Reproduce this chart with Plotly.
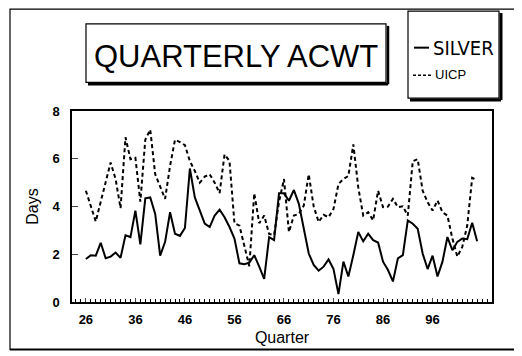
import plotly.graph_objects as go

quarters = list(range(26, 106))

silver = [1.80, 1.96, 1.94, 2.48, 1.83, 1.90, 2.07, 1.85, 2.79, 2.72,
          3.83, 2.41, 4.34, 4.38, 3.69, 1.94, 2.52, 3.76, 2.86, 2.77,
          3.10, 5.59, 4.38, 3.83, 3.28, 3.14, 3.62, 3.87, 3.55, 3.14,
          2.66, 1.62, 1.58, 1.65, 1.96, 1.48, 0.97, 2.72, 2.59, 4.55,
          4.55, 4.24, 4.69, 4.11, 3.07, 2.03, 1.55, 1.31, 1.48, 1.78,
          1.38, 0.33, 1.69, 1.07, 1.96, 2.93, 2.54, 2.86, 2.59, 2.49,
          1.69, 1.34, 0.86, 1.83, 1.96, 3.42, 3.28, 3.07, 2.03, 1.38,
          1.94, 1.07, 1.69, 2.72, 2.17, 2.52, 2.66, 2.63, 3.32, 2.54]

uicp = [4.66, 4.00, 3.37, 4.20, 5.00, 5.84, 5.15, 3.93, 6.90, 5.98,
        6.04, 4.20, 6.80, 7.22, 5.35, 4.80, 4.32, 5.70, 6.80, 6.70,
        6.57, 5.90, 5.49, 5.00, 5.25, 5.35, 5.00, 4.56, 6.18, 5.90,
        3.30, 3.20, 2.30, 1.50, 4.55, 3.30, 3.62, 2.85, 2.80, 4.20,
        5.15, 2.93, 3.62, 3.69, 4.04, 5.35, 4.00, 3.35, 3.65, 3.55,
        3.90, 4.94, 5.15, 5.28, 6.60, 4.80, 3.62, 3.76, 3.42, 4.66,
        3.97, 4.00, 4.32, 3.97, 4.01, 3.62, 5.90, 5.98, 4.66, 4.18,
        3.83, 4.25, 3.76, 3.62, 2.66, 1.90, 2.31, 3.20, 5.20, 5.10]

x_ticks = [26, 36, 46, 56, 66, 76, 86, 96]
y_ticks = [0, 2, 4, 6, 8]

# page has an 8px body margin, so the figure is 8px smaller each way
OFF = 8
W, H = 522 - OFF, 356 - OFF
L, R, T, B = 72, 492, 111, 304   # plot area in screenshot pixels


def px(x):
    return (x - L) / (R - L)


def py(y):
    return (B - y) / (B - T)


fig = go.Figure()
fig.add_trace(go.Scatter(x=quarters, y=silver, mode="lines", name="SILVER",
                         line=dict(color="black", width=2)))
fig.add_trace(go.Scatter(x=quarters, y=uicp, mode="lines", name="UICP",
                         line=dict(color="black", width=2, dash="4px,3px")))

shapes = []


def box(x0, y0, x1, y1, w=1.2):
    shapes.append(dict(type="rect", xref="paper", yref="paper",
                       x0=px(x0), x1=px(x1), y0=py(y0), y1=py(y1),
                       line=dict(color="black", width=w), layer="above"))


def seg(x0, y0, x1, y1, w=1.5, dash=None):
    ln = dict(color="black", width=w)
    if dash:
        ln["dash"] = dash
    shapes.append(dict(type="line", xref="paper", yref="paper",
                       x0=px(x0), x1=px(x1), y0=py(y0), y1=py(y1), line=ln))


# outer frame
box(10, 8, 519, 352, 1.2)
seg(10, 352, 519, 352, 2)
# title box with shadow
box(86, 23, 386, 82, 1.2)
seg(388, 25, 388, 84, 2.5)
seg(88, 84, 388, 84, 2.5)
# legend box with shadow
box(408, 10, 499, 98, 1.2)
seg(501, 12, 501, 100, 3)
seg(410, 100, 501, 100, 3)
seg(414, 47, 429, 47, 2)
seg(413, 75, 432, 75, 1.5, "3px,2px")


def label(text, x, y, size, **font):
    return dict(text=text, xref="paper", yref="paper", x=px(x), y=py(y),
                xanchor="center", yanchor="middle", showarrow=False,
                font=dict(size=size, **font))


fig.update_layout(
    width=W, height=H,
    margin=dict(l=L - OFF, r=W - (R - OFF), t=T - OFF, b=H - (B - OFF)),
    paper_bgcolor="white", plot_bgcolor="white",
    showlegend=False,
    font=dict(family="Liberation Sans, Arial, sans-serif", color="black"),
    shapes=shapes,
    annotations=[
        label("QUARTERLY ACWT", 236, 56, 31),
        label("SILVER", 463, 47, 20,
              family="DejaVu Sans Condensed, Liberation Sans Narrow, Liberation Sans"),
        label("UICP", 450, 74, 13),
    ],
    xaxis=dict(range=[23.2, 108], tickvals=x_ticks, ticks="inside", ticklen=4,
               showline=True, mirror=True, linecolor="black", linewidth=1.5,
               showgrid=False, zeroline=False, ticklabelstandoff=5,
               tickfont=dict(size=13, weight="bold"),
               minor=dict(tick0=26, dtick=1, ticks="inside", ticklen=3,
                          tickcolor="black", showgrid=False),
               title=dict(text="Quarter", font=dict(size=16), standoff=5)),
    yaxis=dict(range=[0, 8], tickvals=y_ticks, ticks="inside", ticklen=6,
               showline=True, mirror=True, linecolor="black", linewidth=1.5,
               showgrid=False, zeroline=False, ticklabelstandoff=8,
               tickfont=dict(size=13, weight="bold"),
               title=dict(text="Days", font=dict(size=16), standoff=10)),
)

fig.write_html("out.html")
